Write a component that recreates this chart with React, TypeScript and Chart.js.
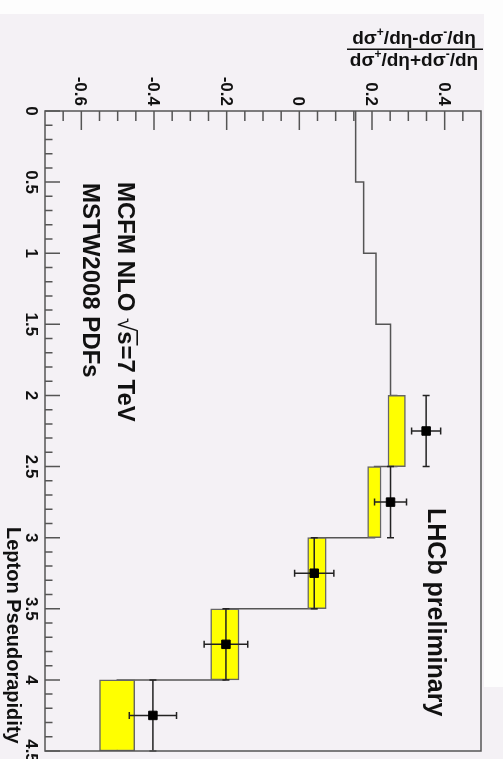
import React, { useEffect, useRef } from "react";
import { Chart, registerables } from "chart.js";

Chart.register(...registerables);

// ---- data ----
const etaEdges = [0, 0.5, 1, 1.5, 2, 2.5, 3, 3.5, 4, 4.5];
const theoryValues = [0.155, 0.177, 0.211, 0.251, 0.268, 0.207, 0.048, -0.205, -0.501];
const bandEta = [2.25, 2.75, 3.25, 3.75, 4.25];
const bandLow = [0.244, 0.188, 0.023, -0.244, -0.55];
const bandHigh = [0.292, 0.225, 0.074, -0.166, -0.453];
const dataEta = [2.25, 2.75, 3.25, 3.75, 4.25];
const dataValues = [0.349, 0.251, 0.041, -0.202, -0.403];
const dataErrors = [0.04, 0.044, 0.054, 0.06, 0.065];
const dataEtaErrors = [0.25, 0.25, 0.25, 0.25, 0.25];
const etaTickLabels = ["0", "0.5", "1", "1.5", "2", "2.5", "3", "3.5", "4", "4.5"];
const valueTickLabels = ["-0.6", "-0.4", "-0.2", "0", "0.2", "0.4"];

const FONT = '"Liberation Sans", Arial, Helvetica, sans-serif';
const BG = "#f4f1f5";

function rotText(
  ctx: CanvasRenderingContext2D,
  text: string,
  x: number,
  y: number,
  font: string,
  align: CanvasTextAlign = "left"
) {
  ctx.save();
  ctx.translate(x, y);
  ctx.rotate(Math.PI / 2);
  ctx.font = font;
  ctx.textAlign = align;
  ctx.textBaseline = "alphabetic";
  ctx.fillText(text, 0, 0);
  ctx.restore();
}

type Seg = { t: string; sup?: boolean };
function drawRich(ctx: CanvasRenderingContext2D, segs: Seg[], cx: number, baseline: number) {
  const main = `bold 19px ${FONT}`;
  const sup = `bold 12px ${FONT}`;
  ctx.textAlign = "left";
  ctx.textBaseline = "alphabetic";
  let total = 0;
  const ws = segs.map((s) => {
    ctx.font = s.sup ? sup : main;
    const w = ctx.measureText(s.t).width;
    total += w;
    return w;
  });
  let x = cx - total / 2;
  segs.forEach((s, i) => {
    ctx.font = s.sup ? sup : main;
    ctx.fillText(s.t, x, baseline + (s.sup ? -8 : 0));
    x += ws[i];
  });
}

const bgPlugin = {
  id: "bg",
  beforeDraw(chart: any) {
    const ctx = chart.ctx as CanvasRenderingContext2D;
    ctx.save();
    ctx.fillStyle = BG;
    ctx.fillRect(0, 0, chart.width, chart.height);
    ctx.fillStyle = "#fdfdfd";
    ctx.fillRect(0, 0, chart.width, 14);
    ctx.fillRect(484, 0, chart.width - 484, 687);
    ctx.restore();
  },
};

const errPlugin = {
  id: "errbars",
  beforeDatasetDraw(chart: any, args: any) {
    if (args.index !== 2) return;
    const ctx = chart.ctx as CanvasRenderingContext2D;
    const xs = chart.scales.x;
    const ys = chart.scales.y;
    ctx.save();
    ctx.strokeStyle = "#222";
    ctx.lineWidth = 1.5;
    const cap = 3.5;
    dataEta.forEach((e, i) => {
      const px = xs.getPixelForValue(dataValues[i]);
      const py = ys.getPixelForValue(e);
      const x1 = xs.getPixelForValue(dataValues[i] - dataErrors[i]);
      const x2 = xs.getPixelForValue(dataValues[i] + dataErrors[i]);
      const y1 = ys.getPixelForValue(e - dataEtaErrors[i]);
      const y2 = ys.getPixelForValue(e + dataEtaErrors[i]);
      ctx.beginPath();
      ctx.moveTo(x1, py);
      ctx.lineTo(x2, py);
      ctx.moveTo(x1, py - cap);
      ctx.lineTo(x1, py + cap);
      ctx.moveTo(x2, py - cap);
      ctx.lineTo(x2, py + cap);
      ctx.moveTo(px, y1);
      ctx.lineTo(px, y2);
      ctx.moveTo(px - cap, y1);
      ctx.lineTo(px + cap, y1);
      ctx.moveTo(px - cap, y2);
      ctx.lineTo(px + cap, y2);
      ctx.stroke();
    });
    ctx.restore();
  },
};

const axesPlugin = {
  id: "rootAxes",
  afterDatasetsDraw(chart: any) {
    const ctx = chart.ctx as CanvasRenderingContext2D;
    const xs = chart.scales.x;
    const ys = chart.scales.y;
    const a = chart.chartArea;
    ctx.save();
    // frame
    ctx.strokeStyle = "#555";
    ctx.lineWidth = 1.5;
    ctx.strokeRect(a.left, a.top, a.right - a.left, a.bottom - a.top);

    // value axis ticks (top edge)
    ctx.beginPath();
    for (let k = -13; k <= 9; k++) {
      const v = k * 0.05;
      if (v < xs.min || v > xs.max) continue;
      const px = xs.getPixelForValue(v);
      const major = k % 4 === 0;
      ctx.moveTo(px, a.top);
      ctx.lineTo(px, a.top + (major ? 19 : 10));
    }
    // eta axis ticks (left edge)
    for (let k = 0; k <= 45; k++) {
      const e = k * 0.1;
      const py = ys.getPixelForValue(e);
      const major = k % 5 === 0;
      ctx.moveTo(a.left, py);
      ctx.lineTo(a.left + (major ? 15 : 7.5), py);
    }
    ctx.stroke();

    ctx.fillStyle = "#111";
    // value labels
    valueTickLabels.forEach((lab) => {
      const px = xs.getPixelForValue(parseFloat(lab));
      rotText(ctx, lab, px - 6, 106, `bold 17px ${FONT}`, "right");
    });
    // eta labels
    etaTickLabels.forEach((lab) => {
      const py = ys.getPixelForValue(parseFloat(lab));
      rotText(ctx, lab, 26, py, `bold 17px ${FONT}`, "center");
    });

    // axis title (eta)
    rotText(ctx, "Lepton Pseudorapidity", 7, 527, `bold 20px ${FONT}`);

    // annotation: MCFM NLO sqrt(s)=7 TeV
    ctx.save();
    ctx.translate(118, 182);
    ctx.rotate(Math.PI / 2);
    const f = `bold 24px ${FONT}`;
    ctx.font = f;
    ctx.textBaseline = "alphabetic";
    ctx.textAlign = "left";
    const p1 = "MCFM NLO ";
    ctx.fillText(p1, 0, 0);
    let x = ctx.measureText(p1).width;
    ctx.font = `24px ${FONT}`;
    ctx.fillText("\u221A", x, 0);
    x += ctx.measureText("\u221A").width;
    ctx.font = f;
    ctx.fillText("s", x, 0);
    const ws = ctx.measureText("s").width;
    ctx.fillRect(x - 1, -20, ws + 2, 1.6);
    x += ws + 1;
    ctx.fillText("=7 TeV", x, 0);
    ctx.restore();

    rotText(ctx, "MSTW2008 PDFs", 83, 183, `bold 24px ${FONT}`);
    rotText(ctx, "LHCb preliminary", 428, 508, `bold 25px ${FONT}`);

    // value axis title (fraction)
    drawRich(ctx, [{ t: "d\u03C3" }, { t: "+", sup: true }, { t: "/d\u03B7-d\u03C3" }, { t: "-", sup: true }, { t: "/d\u03B7" }], 414, 44);
    ctx.fillRect(347, 48.5, 136, 1.5);
    drawRich(ctx, [{ t: "d\u03C3" }, { t: "+", sup: true }, { t: "/d\u03B7+d\u03C3" }, { t: "-", sup: true }, { t: "/d\u03B7" }], 414, 66);
    ctx.restore();
  },
};

export default function App() {
  const ref = useRef<HTMLCanvasElement | null>(null);
  useEffect(() => {
    if (!ref.current) return;
    const theoryPts = etaEdges.map((e, i) => ({
      x: theoryValues[Math.min(i, theoryValues.length - 1)],
      y: e,
    }));
    const chart = new Chart(ref.current, {
      type: "line",
      data: {
        datasets: [
          {
            type: "line",
            label: "MCFM NLO",
            data: theoryPts,
            indexAxis: "y",
            stepped: "after",
            borderColor: "#555",
            borderWidth: 1.5,
            pointRadius: 0,
            fill: false,
            order: 3,
          } as any,
          {
            type: "bar",
            label: "band",
            data: bandEta.map((e, i) => ({ y: e, x: [bandLow[i], bandHigh[i]] })),
            indexAxis: "y",
            backgroundColor: "#ffff00",
            borderColor: "#666",
            borderWidth: 1.5,
            borderSkipped: false,
            barPercentage: 1,
            categoryPercentage: 1,
            grouped: false,
            order: 2,
          } as any,
          {
            type: "scatter",
            label: "LHCb",
            data: dataEta.map((e, i) => ({ x: dataValues[i], y: e })),
            pointStyle: "rect",
            pointRadius: 6,
            pointBorderWidth: 1,
            backgroundColor: "#000",
            borderColor: "#000",
            showLine: false,
            order: 1,
          } as any,
        ],
      },
      options: {
        animation: false,
        responsive: false,
        maintainAspectRatio: false,
        layout: { padding: { left: 45, right: 22, top: 111, bottom: 8 } },
        scales: {
          x: { type: "linear", min: -0.7, max: 0.5, display: false, offset: false },
          y: {
            type: "linear",
            min: 0,
            max: 4.5,
            reverse: true,
            display: false,
            offset: false,
            ticks: { stepSize: 0.5 },
          },
        },
        plugins: { legend: { display: false }, tooltip: { enabled: false } },
      },
      plugins: [bgPlugin, errPlugin, axesPlugin],
    } as any);
    return () => chart.destroy();
  }, []);
  return (
    <div style={{ position: "fixed", left: 0, top: 0, width: 503, height: 759, background: BG }}>
      <canvas ref={ref} width={503} height={759} style={{ display: "block" }} />
    </div>
  );
}
